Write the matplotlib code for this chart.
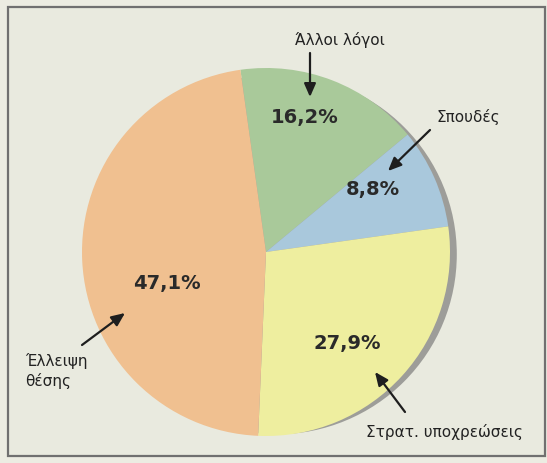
import matplotlib
matplotlib.use("Agg")
import matplotlib.pyplot as plt
from matplotlib.patches import Circle, Rectangle

# Data (clockwise from the top)
categories = ["Άλλοι λόγοι", "Σπουδές", "Στρατ. υποχρεώσεις", "Έλλειψη\nθέσης"]
values = [16.2, 8.8, 27.9, 47.1]
colors = ["#a9c99a", "#a9c8dc", "#eeee9f", "#f0c090"]

W, H = 547, 463
fig = plt.figure(figsize=(W / 100, H / 100), dpi=100)
fig.patch.set_facecolor("#ecece2")
ax = fig.add_axes([0, 0, 1, 1])
ax.set_xlim(0, W)
ax.set_ylim(0, H)
ax.set_aspect("equal")
ax.axis("off")

# frame
ax.add_patch(Rectangle((8, 7), 537, 449, facecolor="#e9eadf", edgecolor="#707070",
                       lw=1.6, zorder=0))

cx, cy, r = 266, 211, 184
# grey rim/shadow
ax.add_patch(Circle((cx + 10.8, cy - 2.3), r - 4, facecolor="#9d9d99", edgecolor="none", zorder=1))

wedges, _ = ax.pie(values, colors=colors, startangle=98, counterclock=False,
                   center=(cx, cy), radius=r, frame=True,
                   wedgeprops=dict(edgecolor="none", zorder=2))
ax.set_xlim(0, W)
ax.set_ylim(0, H)
ax.axis("off")

def pct(v):
    return f"{v:.1f}".replace(".", ",") + "%"

pfont = dict(fontsize=14, fontweight="bold", color="#2a2a2a", ha="center", va="center",
             family="DejaVu Sans", zorder=5)
lfont = dict(fontsize=11, color="#222222", family="DejaVu Sans", zorder=5)
arrow = dict(arrowstyle="-|>,head_length=0.8,head_width=0.35", color="#1e1e1e", lw=1.6,
             shrinkA=0, shrinkB=0)

# percentage labels
pct_pos = [(305, 345), (373, 273), (347, 119), (167, 180)]
for v, (x, y) in zip(values, pct_pos):
    ax.text(x, y, pct(v), **pfont)

# category labels with arrows
ax.text(340, 423, categories[0], ha="center", va="center", **lfont)
ax.annotate("", xy=(310, 366), xytext=(310, 410), arrowprops=arrow, zorder=5)

ax.text(468, 346, categories[1], ha="center", va="center", **lfont)
ax.annotate("", xy=(388, 292), xytext=(430, 333), arrowprops=arrow, zorder=5)

ax.text(444, 31, categories[2], ha="center", va="center", **lfont)
ax.annotate("", xy=(375, 91), xytext=(405, 51), arrowprops=arrow, zorder=5)

ax.text(25, 92, categories[3], ha="left", va="center", linespacing=1.25, **lfont)
ax.annotate("", xy=(125, 150), xytext=(82, 118), arrowprops=arrow, zorder=5)

fig.savefig("out.png", dpi=100, facecolor=fig.get_facecolor())
